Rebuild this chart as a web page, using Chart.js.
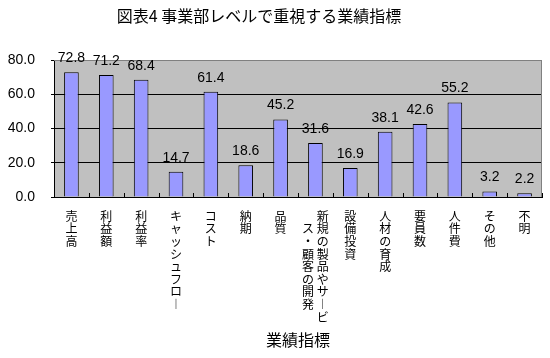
<!DOCTYPE html>
<html><head><meta charset="utf-8">
<script src="https://cdn.jsdelivr.net/npm/chart.js@4/dist/chart.umd.min.js"></script>
<style>html,body{margin:0;padding:0;background:#fff;} canvas{display:block;}</style>
</head><body>
<canvas id="c" width="550" height="358"></canvas>
<script>
const chartTitle = '図表4 事業部レベルで重視する業績指標';
const axisTitle = '業績指標';
const categories = ['売上高','利益額','利益率','キャッシュフロー','コスト','納期','品質','新規の製品やサービス・顧客の開発','設備投資','人材の育成','要員数','人件費','その他','不明'];
const values = [72.8,71.2,68.4,14.7,61.4,18.6,45.2,31.6,16.9,38.1,42.6,55.2,3.2,2.2];
const yTicks = [0,20,40,60,80];

const CJK = '"Noto Sans CJK JP","Noto Sans",sans-serif';
const NUM = '"Liberation Sans",Arial,sans-serif';
const MAX_ROWS = 9;

function vch(c){ return c === 'ー' ? '︱' : c; }
function verticalLabel(s){
  const chars = Array.from(s);
  if (chars.length <= MAX_ROWS) return chars.map(vch);
  const right = chars.slice(0, MAX_ROWS);
  const left = chars.slice(MAX_ROWS);
  const off = Math.floor((MAX_ROWS - left.length) / 2);
  const rows = [];
  for (let r = 0; r < MAX_ROWS; r++) {
    const l = left[r - off];
    rows.push((l ? vch(l) : '　') + ' ' + vch(right[r]));
  }
  return rows;
}

const decor = {
  id: 'decor',
  beforeDraw(chart){
    const {ctx, chartArea:a} = chart;
    ctx.save();
    ctx.fillStyle = '#fff';
    ctx.fillRect(0,0,chart.width,chart.height);
    ctx.fillStyle = '#C0C0C0';
    ctx.fillRect(a.left, a.top, a.right-a.left, a.bottom-a.top);
    ctx.restore();
  },
  beforeDatasetsDraw(chart){
    const {ctx, chartArea:a} = chart;
    ctx.save();
    ctx.strokeStyle = '#808080';
    ctx.lineWidth = 1;
    ctx.beginPath();
    ctx.moveTo(a.left, a.top + 0.5);
    ctx.lineTo(a.right - 0.5, a.top + 0.5);
    ctx.lineTo(a.right - 0.5, a.bottom);
    ctx.stroke();
    ctx.restore();
  },
  afterDatasetsDraw(chart){
    const {ctx, chartArea:a} = chart;
    const xs = chart.scales.x;
    ctx.save();
    ctx.strokeStyle = '#000';
    ctx.lineWidth = 1;
    ctx.beginPath();
    const n = categories.length;
    for (let i = 0; i <= n; i++) {
      let px;
      if (i === 0) px = a.left;
      else if (i === n) px = a.right;
      else px = (xs.getPixelForValue(i-1) + xs.getPixelForValue(i)) / 2;
      px = Math.round(px) + 0.5;
      ctx.moveTo(px, a.bottom);
      ctx.lineTo(px, a.bottom - 4);
    }
    ctx.stroke();
    // data labels
    const meta = chart.getDatasetMeta(0);
    ctx.fillStyle = '#000';
    ctx.font = '14px ' + NUM;
    ctx.textAlign = 'center';
    ctx.textBaseline = 'middle';
    meta.data.forEach((bar, i) => {
      ctx.fillText(values[i].toFixed(1), bar.x, bar.y - 14);
    });
    // title
    ctx.font = '16px ' + CJK;
    ctx.fillText(chartTitle, 259, 16);
    ctx.restore();
  }
};

new Chart(document.getElementById('c'), {
  type: 'bar',
  data: {
    labels: categories,
    datasets: [{
      data: values,
      backgroundColor: '#9999FF',
      borderColor: '#000',
      borderWidth: 1,
      categoryPercentage: 1,
      barPercentage: 0.42
    }]
  },
  options: {
    responsive: false,
    animation: false,
    devicePixelRatio: 1,
    layout: { padding: { top: 60, right: 8, left: 0, bottom: 0 } },
    plugins: { legend: { display: false }, tooltip: { enabled: false }, title: { display: false } },
    scales: {
      x: {
        grid: { display: false },
        border: { display: true, color: '#000', width: 1 },
        ticks: {
          autoSkip: false, maxRotation: 0, minRotation: 0, padding: 5,
          color: '#000',
          font: { family: CJK, size: 12, lineHeight: 1.05 },
          callback: (v, i) => verticalLabel(categories[i])
        },
        title: { display: true, text: axisTitle, color: '#000', font: { family: CJK, size: 16 }, padding: { top: 0, bottom: 8 } },
        afterFit: s => { s.height = 161; }
      },
      y: {
        min: yTicks[0], max: yTicks[yTicks.length-1],
        afterBuildTicks: s => { s.ticks = yTicks.map(v => ({ value: v })); },
        grid: {
          color: c => (c.tick && c.tick.value === 80) ? '#808080' : '#000',
          tickColor: '#000', tickLength: 3, lineWidth: 1
        },
        border: { display: true, color: '#000', width: 1 },
        ticks: { padding: 16, color: '#000', font: { family: NUM, size: 14 }, callback: v => Number(v).toFixed(1) },
        afterFit: s => { s.width = 54; }
      }
    }
  },
  plugins: [decor]
});
</script>
</body></html>
